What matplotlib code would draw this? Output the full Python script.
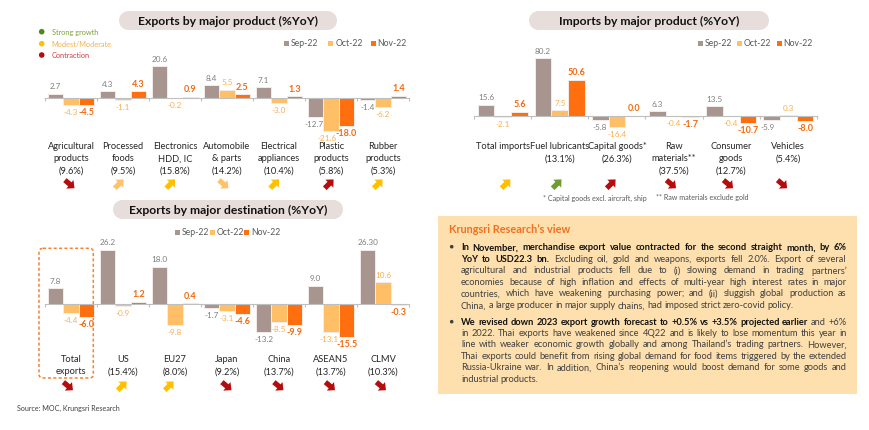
import numpy as np
import matplotlib
matplotlib.use("Agg")
import matplotlib.pyplot as plt
from matplotlib.patches import FancyBboxPatch, Rectangle, Polygon, Circle

plt.rcParams['font.family'] = ['Lato', 'DejaVu Sans']

months = ["Sep-22", "Oct-22", "Nov-22"]

# exports by product
prod_names = ["Agricultural\nproducts\n(9.6%)", "Processed\nfoods\n(9.5%)", "Electronics\nHDD, IC\n(15.8%)",
              "Automobile\n& parts\n(14.2%)", "Electrical\nappliances\n(10.4%)", "Plastic\nproducts\n(5.8%)",
              "Rubber\nproducts\n(5.3%)"]
prod_sep = [2.7, 4.3, 20.6, 8.4, 7.1, -12.7, -1.4]
prod_oct = [-4.3, -1.1, -0.2, 5.5, -3.0, -21.6, -6.2]
prod_nov = [-4.5, 4.3, 0.9, 2.5, 1.3, -18.0, 1.4]
prod_arrows = ["red_down", "light_up", "gold_up", "light_down", "gold_up", "red_up", "gold_up"]

# exports by destination
dest_names = ["Total\nexports", "US\n(15.4%)", "EU27\n(8.0%)", "Japan\n(9.2%)", "China\n(13.7%)",
              "ASEAN5\n(13.7%)", "CLMV\n(10.3%)"]
dest_sep = [7.8, 26.2, 18.0, -1.7, -13.2, 9.0, 26.30]
dest_oct = [-4.4, -0.9, -9.8, -3.1, -8.5, -13.1, 10.6]
dest_nov = [-6.0, 1.2, 0.4, -4.6, -9.9, -15.5, -0.3]
dest_arrows = ["red_down", "gold_up", "gold_up", "red_down", "red_down", "red_down", "red_down"]

# imports by product
imp_names = ["Total imports", "Fuel lubricants\n(13.1%)", "Capital goods*\n(26.3%)", "Raw\nmaterials**\n(37.5%)",
             "Consumer\ngoods\n(12.7%)", "Vehicles\n(5.4%)"]
imp_sep = [15.6, 80.2, -5.8, 6.3, 13.5, -5.9]
imp_oct = [-2.1, 7.5, -16.4, -0.4, -0.4, 0.3]
imp_nov = [5.6, 50.6, 0.0, -1.7, -10.7, -8.0]
imp_arrows = ["gold_up", "green_up", "red_up", "red_down", "red_down", "red_down"]

view1 = [[("In November, merchandise export value contracted for the second straight month, by 6%", True)],
         [("YoY to USD22.3 bn.", True), ("Excluding oil, gold and weapons, exports fell 2.0%. Export of several", False)],
         [("agricultural and industrial products fell due to (i) slowing demand in trading partners’", False)],
         [("economies because of high inflation and effects of multi-year high interest rates in major", False)],
         [("countries, which have weakening purchasing power; and (ii) sluggish global production as", False)],
         [("China, a large producer in major supply chains, had imposed strict zero-covid policy.", False)]]
view2 = [[("We revised down 2023 export growth forecast to +0.5% vs +3.5% projected earlier", True), ("and +6%", False)],
         [("in 2022. Thai exports have weakened since 4Q22 and is likely to lose momentum this year in", False)],
         [("line with weaker economic growth globally and among Thailand’s trading partners. However,", False)],
         [("Thai exports could benefit from rising global demand for food items triggered by the extended", False)],
         [("Russia-Ukraine war. In addition, China’s reopening would boost demand for some goods and", False)],
         [("industrial products.", False)]]

C_SEP, C_OCT, C_NOV = "#a99590", "#ffbf66", "#ff6f0f"
TXT_SEP, TXT_OCT, TXT_NOV = "#7f7f7f", "#fbb050", "#f26a12"
PILL = "#e7dedc"
ARROW_COL = {"red": "#b50d0d", "gold": "#ffc000", "light": "#ffc26a", "green": "#6f9a34"}
W, H = 870, 431

fig = plt.figure(figsize=(W / 100, H / 100), dpi=100)
bg = fig.add_axes([0, 0, 1, 1])
bg.set_xlim(0, W)
bg.set_ylim(H, 0)
bg.axis("off")


def pill(x0, x1, y0, y1, title):
    h = y1 - y0
    bg.add_patch(Rectangle((x0 + h / 2, y0), x1 - x0 - h, h, fc=PILL, ec="none"))
    bg.add_patch(Circle((x0 + h / 2, y0 + h / 2), h / 2, fc=PILL, ec="none"))
    bg.add_patch(Circle((x1 - h / 2, y0 + h / 2), h / 2, fc=PILL, ec="none"))
    bg.text((x0 + x1) / 2, y0 + h / 2, title, ha="center", va="center", fontsize=8.7, fontweight="bold", color="#111111")


def legend(y, xs):
    for m, c, x in zip(months, [C_SEP, C_OCT, C_NOV], xs):
        bg.add_patch(Rectangle((x, y - 2.5), 5, 5, fc=c, ec="none"))
        bg.text(x + 7, y, m, ha="left", va="center", fontsize=6.2, color="#595959")


def arrow(cx, cy, kind):
    col, way = kind.split("_")
    ang = np.deg2rad(-45 if way == "up" else 40)
    pts = np.array([[-6, -2.6], [0.5, -2.6], [0.5, -5.6], [6.5, 0], [0.5, 5.6], [0.5, 2.6], [-6, 2.6]])
    rot = np.array([[np.cos(ang), -np.sin(ang)], [np.sin(ang), np.cos(ang)]])
    bg.add_patch(Polygon(pts @ rot.T + [cx, cy], closed=True, fc=ARROW_COL[col], ec="none"))


def panel(x0, x1, y_zero, scale, y_top, y_bot, sep, oct_, nov, names, name_y, arrows, arrow_y, arrow_dx,
          fixed=None, nudge=None):
    n = len(names)
    ax = fig.add_axes([x0 / W, 1 - y_bot / H, (x1 - x0) / W, (y_bot - y_top) / H])
    ax.patch.set_alpha(0)
    ax.set_xlim(-0.5, n - 0.5)
    ax.set_ylim((y_zero - y_bot) / scale, (y_zero - y_top) / scale)
    width = 0.295
    pos = np.arange(n)
    series = [(sep, C_SEP, TXT_SEP), (oct_, C_OCT, TXT_OCT), (nov, C_NOV, TXT_NOV)]
    for k, (vals, col, tcol) in enumerate(series):
        xs = pos + (k - 1) * width
        ax.bar(xs, vals, width, color=col, edgecolor="#f3ece8", linewidth=0.7, zorder=2)
        for i, (xv, v) in enumerate(zip(xs, vals)):
            off = 8 if v >= 0 else -6.5
            lab = f"{v:.1f}"
            if fixed and (k, i) in fixed:
                lab = fixed[(k, i)]
            dx = nudge.get((k, i), 0) if nudge else 0
            bold = k == 2
            ax.annotate(lab, (xv, v), xytext=(dx * 0.72, off * 0.72), textcoords="offset points", ha="center", va="center",
                        fontsize=6.5 if bold else 5.9, fontweight="bold" if bold else "normal", color=tcol,
                        annotation_clip=False, zorder=3)
    for s in ["top", "left", "right"]:
        ax.spines[s].set_visible(False)
    ax.spines["bottom"].set_position(("data", 0))
    ax.spines["bottom"].set_color("#bfbfbf")
    ax.spines["bottom"].set_linewidth(0.8)
    ax.set_xticks(np.arange(n + 1) - 0.5)
    ax.set_xticklabels([])
    ax.set_yticks([])
    ax.tick_params(axis="x", length=2.5, width=0.8, color="#bfbfbf", direction="out")
    step = (x1 - x0) / n
    for i, nm in enumerate(names):
        cx = x0 + step * (i + 0.5)
        for j, line in enumerate(nm.split("\n")):
            bg.text(cx, name_y + 12 * j, line, ha="center", va="center", fontsize=6.7, color="#262626")
        arrow(cx + arrow_dx[i], arrow_y, arrows[i])


def justified(lines, y_list, left, right, size):
    rend = fig.canvas.get_renderer()
    def width(word, bold):
        t = bg.text(0, 0, word, fontsize=size, fontweight="bold" if bold else "normal")
        w = t.get_window_extent(rend).width
        t.remove()
        return w
    for k, (segs, y) in enumerate(zip(lines, y_list)):
        words = [(w, b) for seg, b in segs for w in seg.split(" ")]
        widths = [width(w, b) for w, b in words]
        gap = (right - left - sum(widths)) / (len(words) - 1)
        if k == len(lines) - 1:
            gap = min(gap, 2.0)
        x = left
        for (w, b), wd in zip(words, widths):
            bg.text(x, y, w, ha="left", va="center", fontsize=size, fontweight="bold" if b else "normal",
                    color="#111111" if b else "#404040")
            x += wd + gap


# titles and legends
pill(119, 337, 12, 31, "Exports by major product (%YoY)")
pill(113, 343, 201, 220, "Exports by major destination (%YoY)")
pill(529, 769, 12, 31, "Imports by major product (%YoY)")
legend(44, [284, 328.5, 370.7])
legend(233, [175, 210, 244])
legend(44, [698, 737, 776.7])

# colour key for the arrows
key_y = [32.7, 44.7, 56]
key_lab = ["Strong growth", "Modest/Moderate", "Contraction"]
key_dot = ["#4f8a10", "#ffc000", "#b50d0d"]
key_txt = ["#7f9f3f", "#f7b04c", "#d63a3f"]
for y, lab, d, t in zip(key_y, key_lab, key_dot, key_txt):
    bg.add_patch(Circle((41.7, y), 2.8, fc=d, ec="none"))
    bg.text(51.7, y, lab, ha="left", va="center", fontsize=5.3, color=t)

# highlight around total exports
bg.add_patch(FancyBboxPatch((39, 249.3), 54.3, 129.7, boxstyle="round,pad=0,rounding_size=4", fc="none", ec="#f58233",
                            lw=1.1, ls=(0, (2, 1.5))))

panel(45, 409, 99, 1.53, 60, 140, prod_sep, prod_oct, prod_nov, prod_names, 147, prod_arrows, 185,
      [-1.5, -4, -4.5, -3.5, -4.5, -2, -5], nudge={(0, 5): -2, (1, 5): -4})
panel(45, 409, 305.3, 2.08, 250, 340, dest_sep, dest_oct, dest_nov, dest_names, 360, dest_arrows, 387,
      [-3, -1, -6, -0.5, -0.5, -1, -2], fixed={(0, 6): "26.30"}, nudge={(1, 5): -2, (2, 5): 1})
panel(474.3, 816.7, 116.7, 0.715, 55, 132, imp_sep, imp_oct, imp_nov, imp_names, 147, imp_arrows, 185,
      [3, -3, -6, -3, -3, -6], nudge={(0, 5): -4})

bg.text(543.3, 198, "* Capital goods excl. aircraft, ship", ha="left", va="center", fontsize=5.1, color="#595959")
bg.text(655.7, 198, "** Raw materials exclude gold", ha="left", va="center", fontsize=5.1, color="#595959")

# text box
bg.add_patch(Rectangle((438, 216.7), 418.7, 178.3, fc="#fde0ae", ec="none"))
bg.text(449.3, 230, "Krungsri Research’s view", ha="left", va="center", fontsize=7.8, fontweight="bold", color="#f26f1e")
for y in (247.7, 322.7):
    bg.add_patch(Circle((451.7, y), 1.8, fc="#404040", ec="none"))
justified(view1, [247.7, 259.3, 271, 282.3, 294, 305.7], 461, 846.7, 6.7)
justified(view2, [322.7, 333.7, 345, 356.7, 367.7, 379.7], 461, 846.7, 6.7)

bg.text(16.7, 408, "Source: MOC, Krungsri Research", ha="left", va="center", fontsize=5.1, color="#404040")

fig.savefig("out.png", dpi=100)
